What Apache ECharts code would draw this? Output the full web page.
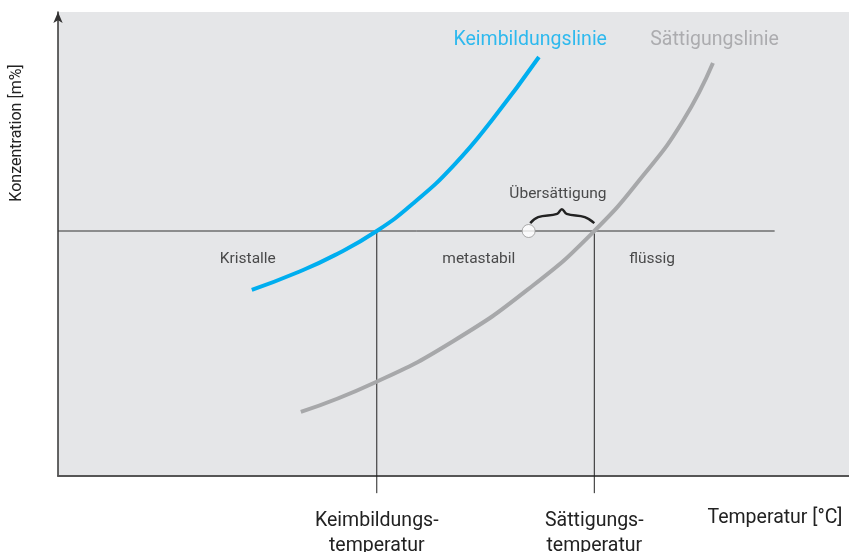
<!DOCTYPE html>
<html>
<head>
<meta charset="utf-8">
<script src="https://cdn.jsdelivr.net/npm/echarts@6/dist/echarts.min.js"></script>
<style>
  html, body { margin: 0; padding: 0; background: #fff; }
  #chart { width: 849px; height: 552px; }
</style>
</head>
<body>
<div id="chart"></div>
<script>
// Kurven (Temperatur, Konzentration) in relativen Einheiten 0..100
const keimbildungslinie = [
    [24.5, 40.1], [30.0, 43.7], [35.0, 47.6], [40.3, 52.8], [45.0, 58.9],
    [50.0, 66.9], [55.0, 77.0], [60.8, 90.3]
];
const saettigungslinie = [
    [30.7, 13.8], [40.0, 20.1], [50.0, 29.1], [60.0, 41.0],
    [67.8, 52.8], [74.0, 64.8], [79.0, 76.5], [82.8, 89.0]
];
// Konzentrationsniveau + Temperaturen
const niveau = 52.8;
const niveauEnde = 90.6;
const keimTemp = 40.3;
const saettTemp = 67.8;
const unterkante = -3.7;
const startPunkt = [59.5, 52.8];
// geschweifte Klammer "Übersättigung"
const klammer = [
    [59.7, 54.5], [60.7, 55.8], [63.1, 56.5], [63.7, 57.5],
    [64.3, 56.5], [66.6, 55.8], [67.8, 54.5]
];
// Achsenbeschriftung
const xTickValues = [keimTemp, saettTemp];
const xTickLabels = ['Keimbildungs-\ntemperatur', 'Sättigungs-\ntemperatur'];

const FONT = 'Roboto, "Noto Sans", sans-serif';
const chart = echarts.init(document.getElementById('chart'));

const textPt = (name, x, y, color, size) => ({
    name: name,
    value: [x, y],
    label: { color: color, fontSize: size }
});

chart.setOption({
    animation: false,
    textStyle: { fontFamily: FONT },
    grid: {
        left: 58, right: 0, top: 12, bottom: 76,
        outerBoundsMode: 'none', containLabel: false,
        show: true, backgroundColor: '#e5e6e8', borderWidth: 0
    },
    xAxis: {
        type: 'value', min: 0, max: 100,
        splitLine: { show: false },
        axisTick: { show: false },
        axisLine: { lineStyle: { color: '#555', width: 2 } },
        axisLabel: {
            customValues: xTickValues,
            formatter: (v) => {
                const i = xTickValues.findIndex((t) => Math.abs(t - v) < 0.01);
                return i >= 0 ? xTickLabels[i] : '';
            },
            color: '#222', fontSize: 19.5, lineHeight: 25, margin: 33,
            fontFamily: FONT
        }
    },
    yAxis: {
        type: 'value', min: 0, max: 100,
        splitLine: { show: false },
        axisTick: { show: false },
        axisLabel: { show: false },
        axisLine: {
            symbol: ['none', 'arrow'], symbolSize: [7, 11],
            lineStyle: { color: '#333', width: 1.5 }
        }
    },
    graphic: [
        {
            type: 'text', x: 17, y: 133, rotation: Math.PI / 2,
            style: {
                text: 'Konzentration [m%]', fill: '#222', font: '16px ' + FONT,
                align: 'center', verticalAlign: 'middle'
            }
        },
        {
            type: 'text', x: 775, y: 518,
            style: {
                text: 'Temperatur [°C]', fill: '#222', font: '19.5px ' + FONT,
                align: 'center', verticalAlign: 'middle'
            }
        }
    ],
    series: [
        {
            type: 'line', silent: true, showSymbol: false,
            data: [[0, niveau], [niveauEnde, niveau]],
            lineStyle: { color: '#333', width: 1 }
        },
        {
            type: 'line', silent: true, showSymbol: false, clip: false,
            data: [[keimTemp, niveau], [keimTemp, unterkante]],
            lineStyle: { color: '#222', width: 1 }
        },
        {
            type: 'line', silent: true, showSymbol: false, clip: false,
            data: [[saettTemp, niveau], [saettTemp, unterkante]],
            lineStyle: { color: '#222', width: 1 }
        },
        {
            type: 'line', silent: true, showSymbol: false, smooth: 0.4,
            data: klammer,
            lineStyle: { color: '#222', width: 2.5 }
        },
        {
            name: 'Sättigungslinie', type: 'line', silent: true, showSymbol: false,
            smooth: 0.5,
            data: saettigungslinie,
            lineStyle: { color: '#a7a8aa', width: 4 }
        },
        {
            name: 'Keimbildungslinie', type: 'line', silent: true, showSymbol: false,
            smooth: 0.5,
            data: keimbildungslinie,
            lineStyle: { color: '#00aeef', width: 4 }
        },
        {
            type: 'scatter', silent: true, symbolSize: 13,
            data: [startPunkt],
            itemStyle: { color: '#fff', borderColor: '#999', borderWidth: 1 },
            z: 5
        },
        {
            type: 'scatter', silent: true, symbolSize: 0,
            label: {
                show: true, position: 'inside', formatter: '{b}',
                fontFamily: FONT
            },
            data: [
                textPt('Keimbildungslinie', 59.7, 94.0, '#00aeef', 19.5),
                textPt('Sättigungslinie', 83.0, 94.0, '#9d9ea0', 19.5),
                textPt('Kristalle', 24.0, 46.8, '#222', 15.5),
                textPt('metastabil', 53.2, 46.8, '#222', 15.5),
                textPt('flüssig', 75.1, 46.8, '#222', 15.5),
                textPt('Übersättigung', 63.2, 60.8, '#222', 15.5)
            ],
            z: 6
        }
    ]
});
</script>
</body>
</html>
